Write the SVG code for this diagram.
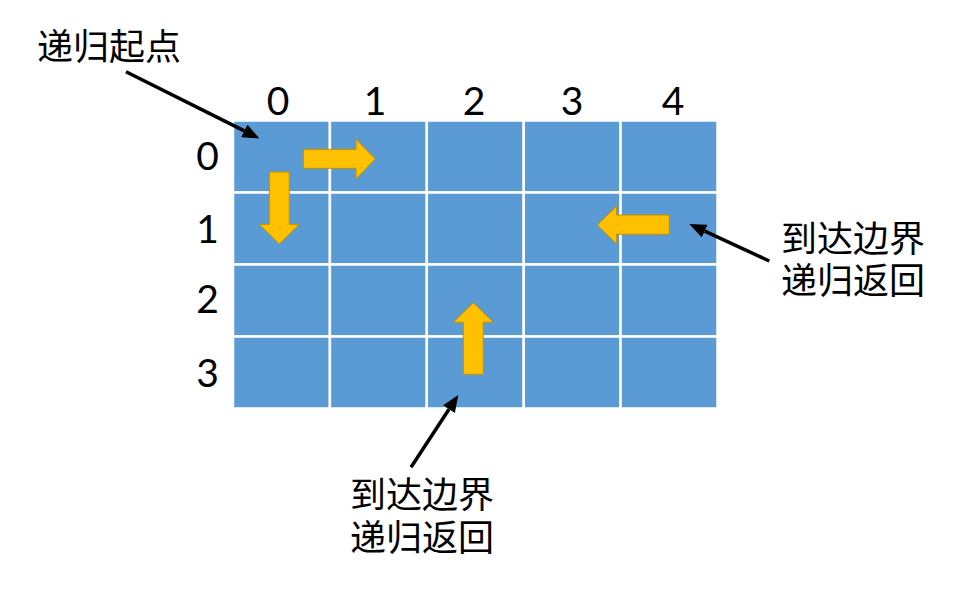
<svg xmlns="http://www.w3.org/2000/svg" width="960" height="601" viewBox="0 0 960 601">
<style>
.cell{fill:#5B9BD5;stroke:#FFFFFF;stroke-width:2.5}
.blk{fill:#FFC000;stroke:#BF9000;stroke-width:1}
.num{font-family:Lato,"Open Sans","Liberation Sans",sans-serif;font-size:39px;fill:#000;text-anchor:middle}
.lbl{font-family:"Noto Sans CJK SC",sans-serif;font-size:36px;fill:#000}
.ptr{stroke:#000;stroke-width:3.5;fill:none}
</style>
<defs>
<marker id="head" markerUnits="userSpaceOnUse" markerWidth="17" markerHeight="14" refX="0" refY="7" orient="auto">
<path d="M0,0 L17,7 L0,14 Z" fill="#000"/>
</marker>
</defs>
<rect width="960" height="601" fill="#FFFFFF"/>
<g id="grid">
<rect class="cell" x="233" y="120.5" width="96.9" height="72"/>
<rect class="cell" x="329.9" y="120.5" width="96.9" height="72"/>
<rect class="cell" x="426.8" y="120.5" width="96.9" height="72"/>
<rect class="cell" x="523.7" y="120.5" width="96.9" height="72"/>
<rect class="cell" x="620.6" y="120.5" width="96.9" height="72"/>
<rect class="cell" x="233" y="192.5" width="96.9" height="72"/>
<rect class="cell" x="329.9" y="192.5" width="96.9" height="72"/>
<rect class="cell" x="426.8" y="192.5" width="96.9" height="72"/>
<rect class="cell" x="523.7" y="192.5" width="96.9" height="72"/>
<rect class="cell" x="620.6" y="192.5" width="96.9" height="72"/>
<rect class="cell" x="233" y="264.5" width="96.9" height="72"/>
<rect class="cell" x="329.9" y="264.5" width="96.9" height="72"/>
<rect class="cell" x="426.8" y="264.5" width="96.9" height="72"/>
<rect class="cell" x="523.7" y="264.5" width="96.9" height="72"/>
<rect class="cell" x="620.6" y="264.5" width="96.9" height="72"/>
<rect class="cell" x="233" y="336.5" width="96.9" height="72"/>
<rect class="cell" x="329.9" y="336.5" width="96.9" height="72"/>
<rect class="cell" x="426.8" y="336.5" width="96.9" height="72"/>
<rect class="cell" x="523.7" y="336.5" width="96.9" height="72"/>
<rect class="cell" x="620.6" y="336.5" width="96.9" height="72"/>
</g>
<g id="col-labels">
<text class="num" x="278" y="115">0</text>
<text class="num" x="375" y="115">1</text>
<text class="num" x="474" y="115">2</text>
<text class="num" x="572" y="115">3</text>
<text class="num" x="673" y="115">4</text>
</g>
<g id="row-labels">
<text class="num" x="207.5" y="170">0</text>
<text class="num" x="207.5" y="243">1</text>
<text class="num" x="207.5" y="313">2</text>
<text class="num" x="207.5" y="387">3</text>
</g>
<g id="block-arrows">
<path id="arrow-right" class="blk" d="M303.3,149.3 H356 V139.3 L375.3,159 L356,179 V168.3 H303.3 Z"/>
<path id="arrow-down" class="blk" d="M269.3,172 H289.3 V224.3 H299.3 L279.3,244 L259.3,224.3 H269.3 Z"/>
<path id="arrow-left" class="blk" d="M669.3,215 V234.3 H616.7 V244 L597.3,225 L616.7,206 V215 Z"/>
<path id="arrow-up" class="blk" d="M463.3,374.3 V322.3 H453.3 L473.3,302.7 L493.3,322.3 H483.3 V374.3 Z"/>
</g>
<g id="connectors">
<line class="ptr" x1="126" y1="71.7" x2="244.3" y2="130.9" marker-end="url(#head)"/>
<line class="ptr" x1="769.3" y1="261" x2="704.7" y2="231.1" marker-end="url(#head)"/>
<line class="ptr" x1="411" y1="467.3" x2="449" y2="409.2" marker-end="url(#head)"/>
</g>
<g id="label-start">
<text class="lbl" x="37" y="60">递归起点</text>
</g>
<g id="label-right">
<text class="lbl" x="781" y="252">到达边界<tspan x="781" y="294">递归返回</tspan></text>
</g>
<g id="label-bottom">
<text class="lbl" x="350" y="508">到达边界<tspan x="350" y="551">递归返回</tspan></text>
</g>
</svg>
